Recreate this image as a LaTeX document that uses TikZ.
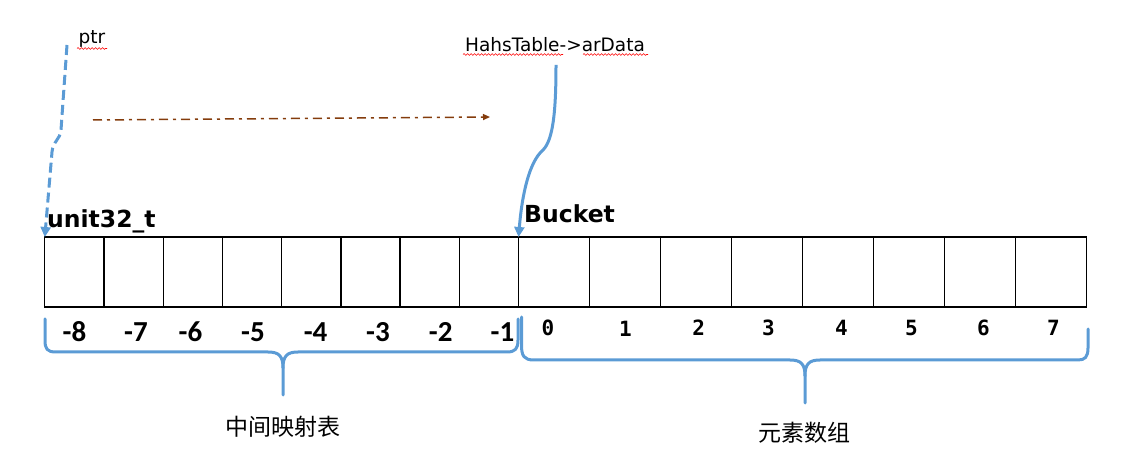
\documentclass[tikz,border=0pt]{standalone}
\usepackage{fontspec}
\setmainfont{DejaVu Sans}
\newfontfamily\cjk{Noto Sans CJK SC}
\newfontfamily\numfont{Carlito}
\newfontfamily\idxfont{DejaVu Sans Mono}
\usetikzlibrary{arrows.meta,decorations.pathmorphing}
\definecolor{myblue}{RGB}{91,155,213}
\definecolor{mybrown}{RGB}{132,60,12}
\begin{document}
\begin{tikzpicture}[x=1pt,y=-1pt,
  cellL/.style={draw=black,line width=1.3pt,minimum width=59.22pt,minimum height=70pt,inner sep=0pt,outer sep=0pt},
  cellR/.style={draw=black,line width=1.3pt,minimum width=71.02pt,minimum height=70pt,inner sep=0pt,outer sep=0pt},
  negnum/.style={font=\numfont\bfseries\fontsize{29}{29}\selectfont,inner sep=0pt},
  posnum/.style={font=\idxfont\bfseries\fontsize{21}{21}\selectfont,inner sep=0pt},
  typename/.style={font=\bfseries\fontsize{23.5}{23.5}\selectfont,inner sep=0pt,anchor=base west},
  ptrtext/.style={font=\fontsize{18.5}{18.5}\selectfont,inner sep=0pt,anchor=base},
  cjktext/.style={font=\cjk\fontsize{23}{23}\selectfont,inner sep=0pt},
  brace/.style={draw=myblue,line width=3pt,line join=round,line cap=round},
  bluedash/.style={draw=myblue,line width=3pt,dash pattern=on 10pt off 5pt,-{Triangle[width=10pt,length=10pt]}},
  bluesolid/.style={draw=myblue,line width=3pt,-{Triangle[width=10pt,length=10pt]}},
  brownarrow/.style={draw=mybrown,line width=1.5pt,dash pattern=on 9pt off 5pt on 3pt off 5pt,-{Triangle[width=6pt,length=7pt]}},
  squig/.style={draw=red,line width=0.6pt,decorate,decoration={snake,amplitude=0.9pt,segment length=3.5pt}}
]
\useasboundingbox (0,0) rectangle (1133,454);

% cells
\foreach \i [count=\k from 0] in {8,7,6,5,4,3,2,1}
  \node[cellL] (m\i) at ({44.8+59.22*(\k+0.5)},272) {};
\foreach \i in {0,...,7}
  \node[cellR] (b\i) at ({518.6+71.02*(\i+0.5)},272) {};

% index labels
\node[negnum] (l8) at (74.5,332) {-8};
\node[negnum] (l7) at (136,332) {-7};
\node[negnum] (l6) at (190.5,332) {-6};
\node[negnum] (l5) at (253,332) {-5};
\node[negnum] (l4) at (315.6,332) {-4};
\node[negnum] (l3) at (378,332) {-3};
\node[negnum] (l2) at (440.7,332) {-2};
\node[negnum] (l1) at (502.5,332) {-1};
\node[posnum] (p0) at (548,328) {0};
\node[posnum] (p1) at (625.5,329) {1};
\node[posnum] (p2) at (698.6,328) {2};
\node[posnum] (p3) at (768.5,328) {3};
\node[posnum] (p4) at (841.5,328) {4};
\node[posnum] (p5) at (911.5,328) {5};
\node[posnum] (p6) at (983.5,328) {6};
\node[posnum] (p7) at (1053.5,328) {7};

% type names
\node[typename] (ut) at (47,228) {unit32\_t};
\node[typename] (bk) at (524,223) {Bucket};

% pointer texts
\node[ptrtext] (ptr) at (92,44) {ptr};
\node[ptrtext] (ht) at (555,52) {HahsTable->arData};
\draw[squig] (77,48.5) -- (107,48.5);
\draw[squig] (463,54.5) -- (563,54.5);
\draw[squig] (583,54.5) -- (648,54.5);

% braces
\draw[brace] (45,319) -- (45,340) .. controls (45,349) and (47,352) .. (56,352)
  -- (268,352) .. controls (279,352) and (283,356) .. (283,368) -- (283,395);
\draw[brace] (283,368) .. controls (283,356) and (287,352) .. (298,352)
  -- (507,352) .. controls (515,352) and (518,349) .. (518,340) -- (518,319);
\draw[brace] (521.5,317) -- (521.5,345) .. controls (521.5,356) and (524,360) .. (534,360)
  -- (790,360) .. controls (801,360) and (805,364) .. (805,376) -- (805,403);
\draw[brace] (805,376) .. controls (805,364) and (809,360) .. (820,360)
  -- (1078,360) .. controls (1085,360) and (1088,357) .. (1088,348) -- (1088,329);

% brace labels
\node[cjktext] (mid) at (283,427) {中间映射表};
\node[cjktext] (elem) at (804,433) {元素数组};

% pointer arrows
\coordinate (ps) at (67,45);
\coordinate (hs) at (556,65);
\draw[bluedash] (ps) -- (61,130) .. controls (60,140) and (53,141) .. (52,152) -- (m8.north west);
\draw[bluesolid] (hs) .. controls (556,112) and (553,140) .. (543,150)
  .. controls (529,162) and (522,195) .. (m1.north east);

% dash-dot arrow
\coordinate (bs) at (93,120);
\coordinate (be) at (490,117);
\draw[brownarrow] (bs) -- (be);
\end{tikzpicture}
\end{document}
